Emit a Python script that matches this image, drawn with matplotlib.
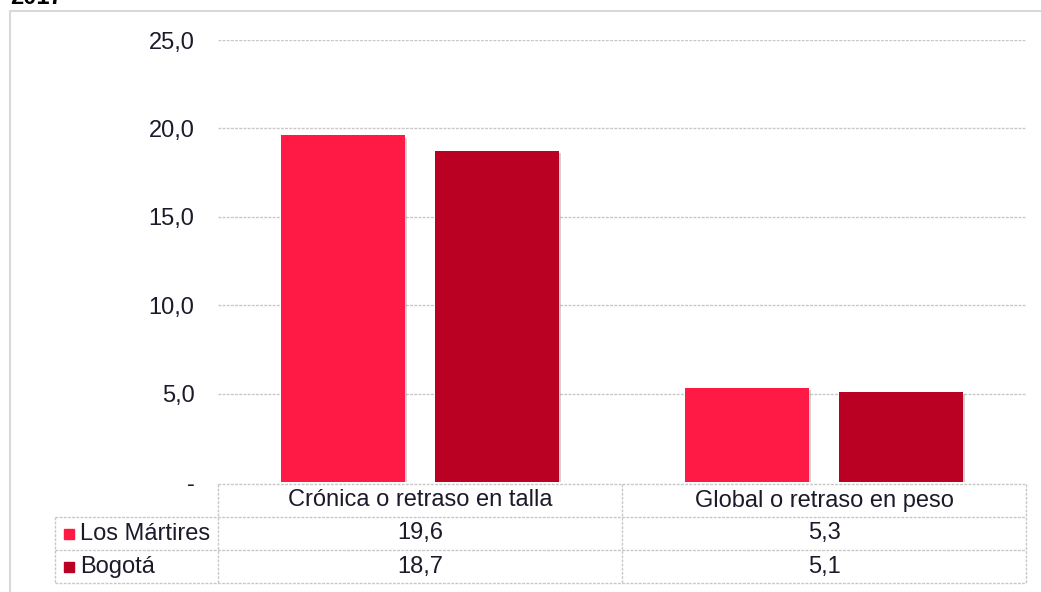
import matplotlib.pyplot as plt
import matplotlib.patheffects as pe
from matplotlib.patches import Rectangle
import numpy as np

categories = ["Crónica o retraso en talla", "Global o retraso en peso"]
series = ["Los Mártires", "Bogotá"]
los_martires = [19.6, 5.3]
bogota = [18.7, 5.1]
row_labels = ["19,6", "5,3"], ["18,7", "5,1"]
yticks = [0, 5, 10, 15, 20, 25]
ytick_labels = ["-", "5,0", "10,0", "15,0", "20,0", "25,0"]
colors = ["#FF1A45", "#BA0023"]

plt.rcParams['font.family'] = ['Liberation Sans', 'DejaVu Sans']
fs = 17
txt = "#1a1a2a"
grid_c = "#c8c8c8"

fig = plt.figure(figsize=(10.41, 5.92), dpi=100)
W, H = 1041, 592

# outer chart frame (top-left corner visible only)
fig.patches.append(Rectangle((10 / W, -0.2), 2.0, 1.2 - 11 / H, transform=fig.transFigure,
                             fill=False, edgecolor="#d9d9d9", linewidth=1.5))
# title sits mostly above the visible area, as in the source image
fig.text(10 / W, 1 - 4 / H, "2017", fontsize=fs, fontweight="bold", va="baseline", ha="left")

ax = fig.add_axes([218 / W, 1 - 482 / H, 808 / W, 442 / H])
x = np.arange(len(categories))
bw = 0.307
off = 0.19
shadow = [pe.SimplePatchShadow(offset=(1.5, -1.5), shadow_rgbFace="gray", alpha=0.35), pe.Normal()]
for vals, c, d in [(los_martires, colors[0], -off), (bogota, colors[1], off)]:
    bars = ax.bar(x + d, vals, width=bw, color=c, zorder=3)
    for b in bars:
        b.set_path_effects(shadow)

ax.set_xlim(-0.5, 1.5)
ax.set_ylim(0, 25)
ax.set_yticks(yticks)
ax.set_yticklabels(ytick_labels, fontsize=fs, color=txt)
ax.tick_params(axis="y", length=0, pad=17)
ax.set_xticks([])
for s in ax.spines.values():
    s.set_visible(False)
for t in yticks[1:]:
    ax.axhline(t, color=grid_c, linestyle=(0, (2, 1)), linewidth=1, zorder=1)

# data table below the axes
row_h = 33 / 442
top = -2 / 442
left = -163 / 808
trans = ax.transAxes
lkw = dict(color=grid_c, linestyle=(0, (2, 1)), linewidth=1, transform=trans, clip_on=False)
col_edges = [(xe + 0.5) / 2 for xe in [-0.5, 0.5, 1.5]]
ax.plot([0, 1], [top, top], **lkw)
for i in range(1, 4):
    y = top - i * row_h
    ax.plot([left, 1], [y, y], **lkw)
ax.plot([left, left], [top - row_h, top - 3 * row_h], **lkw)
for xe in col_edges:
    ax.plot([xe, xe], [top, top - 3 * row_h], **lkw)

for j, cat in enumerate(categories):
    cx = (col_edges[j] + col_edges[j + 1]) / 2
    ax.text(cx, top - 0.5 * row_h, cat, transform=trans, ha="center", va="center",
            fontsize=fs, color=txt)
for i, (name, vals) in enumerate(zip(series, row_labels)):
    cy = top - (i + 1.5) * row_h
    ax.add_patch(Rectangle((left + 9 / 808, cy - 5 / 442), 10 / 808, 10 / 442, transform=trans,
                           color=colors[i], clip_on=False))
    ax.text(left + 25 / 808, cy, name, transform=trans, ha="left", va="center", fontsize=fs, color=txt)
    for j, v in enumerate(vals):
        cx = (col_edges[j] + col_edges[j + 1]) / 2
        ax.text(cx, cy, v, transform=trans, ha="center", va="center", fontsize=fs, color=txt)

fig.savefig("out.png", dpi=100)
